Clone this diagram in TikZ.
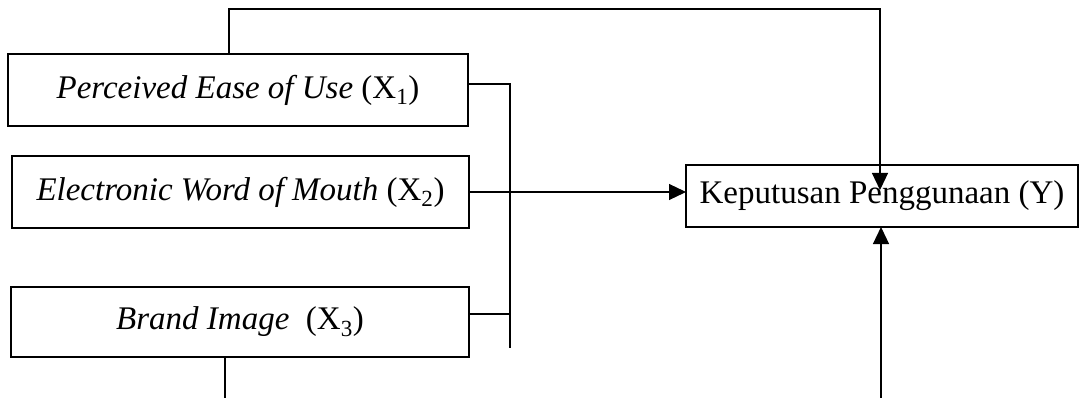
\documentclass[tikz,border=0pt]{standalone}
\usepackage{fontspec}
\setmainfont{Liberation Serif}
\usetikzlibrary{arrows.meta}
\begin{document}
\begin{tikzpicture}[x=1pt,y=-1pt,
  box/.style={draw, line width=1.2pt, rectangle, inner sep=0pt, outer sep=0pt,
    font=\fontsize{33}{39}\selectfont},
  conn/.style={line width=1.2pt},
  arr/.style={conn, -{Triangle[length=17pt,width=16pt]}}]
\useasboundingbox (0,0) rectangle (1081,398);
\node[box, minimum width=460pt, minimum height=72pt] (b1) at (238,90) {\textit{Perceived Ease of Use} (X\textsubscript{1})\hspace{12pt}};
\node[box, minimum width=457pt, minimum height=72pt] (b2) at (240.5,192) {\textit{Electronic Word of Mouth} (X\textsubscript{2})};
\node[box, minimum width=458pt, minimum height=70pt] (b3) at (240,322) {\textit{Brand Image}\ \ (X\textsubscript{3})};
\node[box, minimum width=392pt, minimum height=62pt] (y) at (882,196) {Keputusan Penggunaan (Y)};
\coordinate (t1) at (229,9);
\coordinate (yin) at (880,190);
\coordinate (j1) at (510,84);
\coordinate (j2) at (510,348);
\coordinate (j3) at (510,314);
\coordinate (bot1) at (225,398);
\coordinate (bot2) at (881,398);
\draw[arr] (b1.north -| t1) -- (t1) -| (yin);
\draw[conn] (b1.east |- j1) -- (j1) -- (j2);
\draw[conn] (b3.east |- j3) -- (j3);
\draw[arr] (b2.east) -- (b2.east -| y.west);
\draw[conn] (b3.south -| bot1) -- (bot1);
\draw[arr] (bot2) -- (y.south -| bot2);
\end{tikzpicture}
\end{document}
